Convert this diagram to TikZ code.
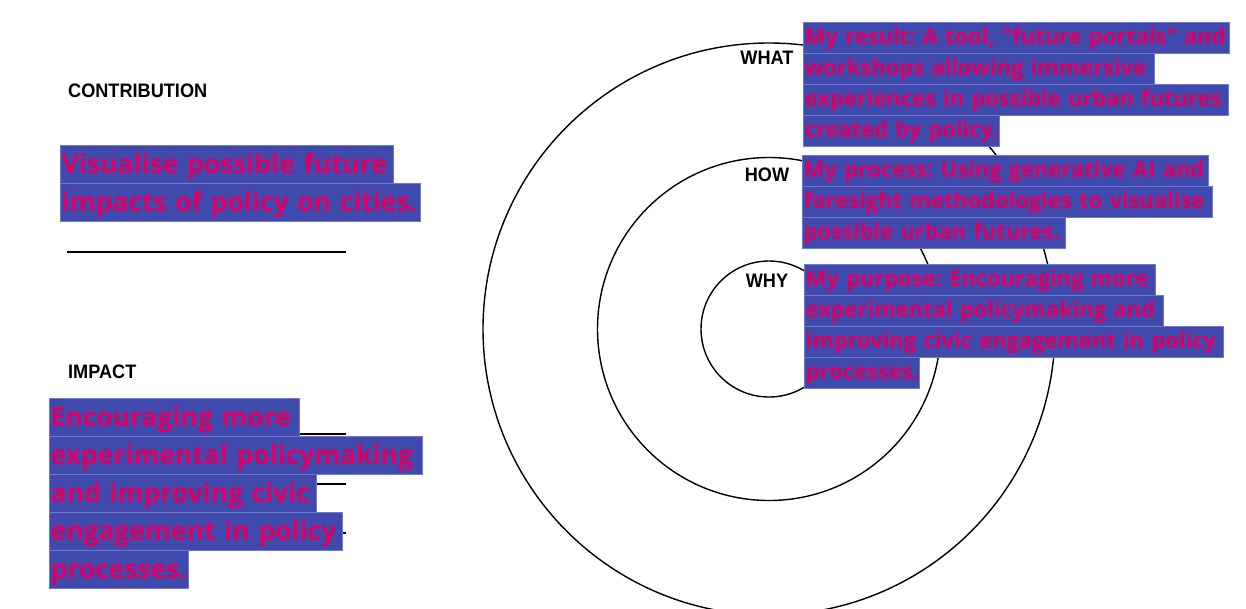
\documentclass[tikz,border=0pt]{standalone}
\usepackage{fontspec}
\setmainfont{Open Sans}
\newfontfamily\headfont{Liberation Sans}[FakeStretch=0.93]
\newfontfamily\hlfont{Open Sans}
\definecolor{hlblue}{RGB}{64,73,172}
\definecolor{hledge}{RGB}{112,120,206}
\definecolor{hltext}{RGB}{220,0,100}
\frenchspacing
\newcommand{\oneline}[1]{\mbox{#1}}
\tikzset{
  ring/.style={draw=black,line width=1.4pt},
  rule/.style={draw=black,line width=2pt},
  head/.style={font=\headfont\bfseries\fontsize{19.5}{21}\selectfont,text=black,inner sep=0pt},
  hlsmall/.style={fill=hlblue,draw=hledge,line width=0.8pt,text=hltext,anchor=north west,inner xsep=1.5pt,inner ysep=0pt,
    text height=22pt,text depth=9pt,align=left,font=\hlfont\bfseries\fontsize{21.9}{31}\selectfont},
  hlbig/.style={fill=hlblue,draw=hledge,line width=0.8pt,text=hltext,anchor=north west,inner xsep=1.5pt,inner ysep=0pt,
    text height=28.3pt,text depth=9.7pt,align=left,font=\hlfont\bfseries\fontsize{26.4}{38}\selectfont},
}
\begin{document}
\begin{tikzpicture}[x=1pt,y=-1pt]
\useasboundingbox[fill=white] (0,0) rectangle (1246,608);
% circles
\node[ring,circle,minimum size=572pt,inner sep=0pt] (outer) at (769,329) {};
\node[ring,circle,minimum size=343pt,inner sep=0pt] (middle) at (769,329) {};
\node[ring,circle,minimum size=136pt,inner sep=0pt] (inner) at (769,329) {};
% labels
\node[head,anchor=west] (contrib) at (68,91) {CONTRIBUTION};
\node[head,anchor=west] (impact) at (68,372) {IMPACT};
\node[head] (what) at (767,58) {WHAT};
\node[head] (how) at (767,175) {HOW};
\node[head] (why) at (767,281) {WHY};
% rules
\coordinate (r1a) at (67,252); \coordinate (r1b) at (346,252);
\coordinate (r2a) at (67,434); \coordinate (r2b) at (346,434);
\coordinate (r3a) at (67,484); \coordinate (r3b) at (346,484);
\coordinate (r4a) at (67,533); \coordinate (r4b) at (346,533);
\draw[rule] (r1a) -- (r1b);
\draw[rule] (r2a) -- (r2b);
\draw[rule] (r3a) -- (r3b);
\draw[rule] (r4a) -- (r4b);
% contribution text
\node[hlbig,text width=330pt] (c1) at (60,145) {\oneline{Visualise possible future}};
\node[hlbig,text width=357pt] (c2) at (60,183) {\oneline{impacts of policy on cities.}};
% impact text
\node[hlbig,text width=247pt] (i1) at (49,398) {\oneline{Encouraging more}};
\node[hlbig,text width=370pt] (i2) at (49,436) {\oneline{experimental policymaking}};
\node[hlbig,text width=264pt] (i3) at (49,474) {\oneline{and improving civic}};
\node[hlbig,text width=290pt] (i4) at (49,512) {\oneline{engagement in policy}};
\node[hlbig,text width=136pt] (i5) at (49,550) {\oneline{processes.}};
% what text
\node[hlsmall,text width=423pt] (w1) at (803,22) {\oneline{My result: A tool, "future portals" and}};
\node[hlsmall,text width=348pt] (w2) at (803,53) {\oneline{workshops allowing immersive}};
\node[hlsmall,text width=422pt] (w3) at (803,84) {\oneline{experiences in possible urban futures}};
\node[hlsmall,text width=193pt] (w4) at (803,115) {\oneline{created by policy.}};
% how text
\node[hlsmall,text width=403pt] (h1) at (802,155) {\oneline{My process: Using generative AI and}};
\node[hlsmall,text width=407pt] (h2) at (802,186) {\oneline{foresight methodologies to visualise}};
\node[hlsmall,text width=260pt] (h3) at (802,217) {\oneline{possible urban futures.}};
% why text
\node[hlsmall,text width=348pt] (y1) at (804,264) {\oneline{My purpose: Encouraging more}};
\node[hlsmall,text width=356pt] (y2) at (804,295) {\oneline{experimental policymaking and}};
\node[hlsmall,text width=416pt] (y3) at (804,326) {\oneline{improving civic engagement in policy}};
\node[hlsmall,text width=112pt] (y4) at (804,357) {\oneline{processes.}};
\end{tikzpicture}
\end{document}
